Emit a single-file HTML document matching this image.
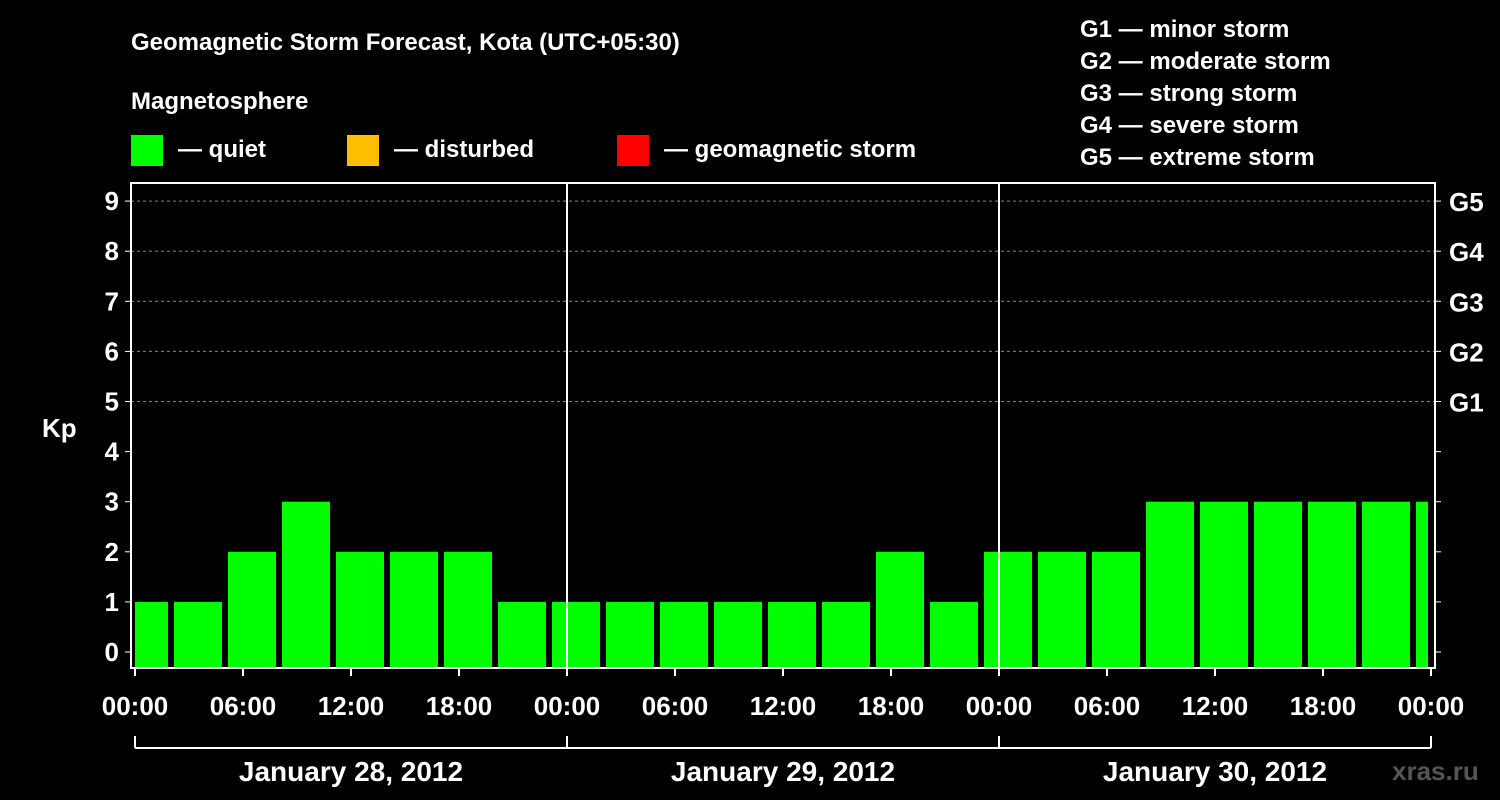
<!DOCTYPE html>
<html><head><meta charset="utf-8"><style>
html,body{margin:0;padding:0;background:#000;}
svg{display:block;font-family:"Liberation Sans",Arial,sans-serif;font-weight:bold;}
</style></head><body>
<svg id="chart" width="1500" height="800" viewBox="0 0 1500 800">
<rect width="1500" height="800" fill="#000"/>
<text x="131" y="50" fill="#fff" font-size="24">Geomagnetic Storm Forecast, Kota (UTC+05:30)</text>
<text x="131" y="109" fill="#fff" font-size="24">Magnetosphere</text>
<g><rect x="131" y="135" width="32" height="31" fill="#00ff00"/><text x="178" y="157" fill="#fff" font-size="24">— quiet</text></g>
<g><rect x="347" y="135" width="32" height="31" fill="#ffbf00"/><text x="394" y="157" fill="#fff" font-size="24">— disturbed</text></g>
<g><rect x="617" y="135" width="32" height="31" fill="#ff0000"/><text x="664" y="157" fill="#fff" font-size="24">— geomagnetic storm</text></g>
<g fill="#fff" font-size="24">
<text x="1080" y="37">G1 — minor storm</text><text x="1080" y="69">G2 — moderate storm</text><text x="1080" y="101">G3 — strong storm</text><text x="1080" y="133">G4 — severe storm</text><text x="1080" y="165">G5 — extreme storm</text></g>
<text x="42" y="437" fill="#fff" font-size="26">Kp</text>
<text x="1392" y="780" fill="#555" font-size="26">xras.ru</text>
<g id="plot"></g>
</svg>
<script>
const kpValues=[1,1,2,3,2,2,2,1,1,1,1,1,1,1,2,1,2,2,2,3,3,3,3,3,3];
const yTicks=[0,1,2,3,4,5,6,7,8,9];
const gLabels=["G1","G2","G3","G4","G5"];
const xTickLabels=["00:00","06:00","12:00","18:00","00:00","06:00","12:00","18:00","00:00","06:00","12:00","18:00","00:00"];
const dayLabels=["January 28, 2012","January 29, 2012","January 30, 2012"];
const NS="http://www.w3.org/2000/svg";
const g=document.getElementById('plot');
const L=131,R=1435,T=183,B=668,X0=135,X1=1431;
const y=v=>652-v*50.1;
const hx=h=>X0+h*(X1-X0)/72;
function el(t,a,p){const e=document.createElementNS(NS,t);for(const k in a)e.setAttribute(k,a[k]);(p||g).appendChild(e);return e;}
// bars
const clip=el('clipPath',{id:'pc'});el('rect',{x:X0,y:T,width:1428-X0,height:B-T},clip);
const bg=el('g',{'clip-path':'url(#pc)'});
kpValues.forEach((v,i)=>{const s=hx(-0.5+i*3)-15.5+18*0;const x=hx(i*3)-15;
 const r=el('rect',{x:x,y:y(v),width:48,height:B-y(v),fill:v>=5?'#ff0000':v>=4?'#ffbf00':'#00ff00'},bg);
 
 });
// grid
yTicks.forEach(t=>{
 if(t>=5){const l=el('line',{x1:L,x2:R,y1:y(t),y2:y(t),stroke:'#888','stroke-dasharray':'3,3','stroke-width':1});
  }
 el('line',{x1:L-6,x2:L,y1:y(t),y2:y(t),stroke:'#fff'});
 el('line',{x1:R,x2:R+6,y1:y(t),y2:y(t),stroke:'#fff'});
 const tx=el('text',{x:L-12,y:y(t)+9,fill:'#fff','font-size':26,'text-anchor':'end'});tx.textContent=t;
 
});
gLabels.forEach((s,i)=>{const tx=el('text',{x:1449,y:y(5+i)+10,fill:'#fff','font-size':26});tx.textContent=s;
 });
el('rect',{x:L,y:T,width:R-L,height:B-T,fill:'none',stroke:'#fff','stroke-width':2});
[1,2].forEach(d=>el('line',{x1:hx(d*24),x2:hx(d*24),y1:T,y2:B,stroke:'#fff','stroke-width':2}));
xTickLabels.forEach((s,i)=>{const x=hx(i*6);el('line',{x1:x,x2:x,y1:B,y2:B+8,stroke:'#fff','stroke-width':2});
 const tx=el('text',{x:x,y:715,fill:'#fff','font-size':26,'text-anchor':'middle'});tx.textContent=s;
 });
el('line',{x1:X0,x2:X1,y1:748,y2:748,stroke:'#fff','stroke-width':2});
[0,1,2,3].forEach(d=>el('line',{x1:hx(d*24),x2:hx(d*24),y1:736,y2:748,stroke:'#fff','stroke-width':2}));
dayLabels.forEach((s,i)=>{const tx=el('text',{x:hx(i*24+12),y:781,fill:'#fff','font-size':28,'text-anchor':'middle'});tx.textContent=s;
 });
</script>
</body></html>
